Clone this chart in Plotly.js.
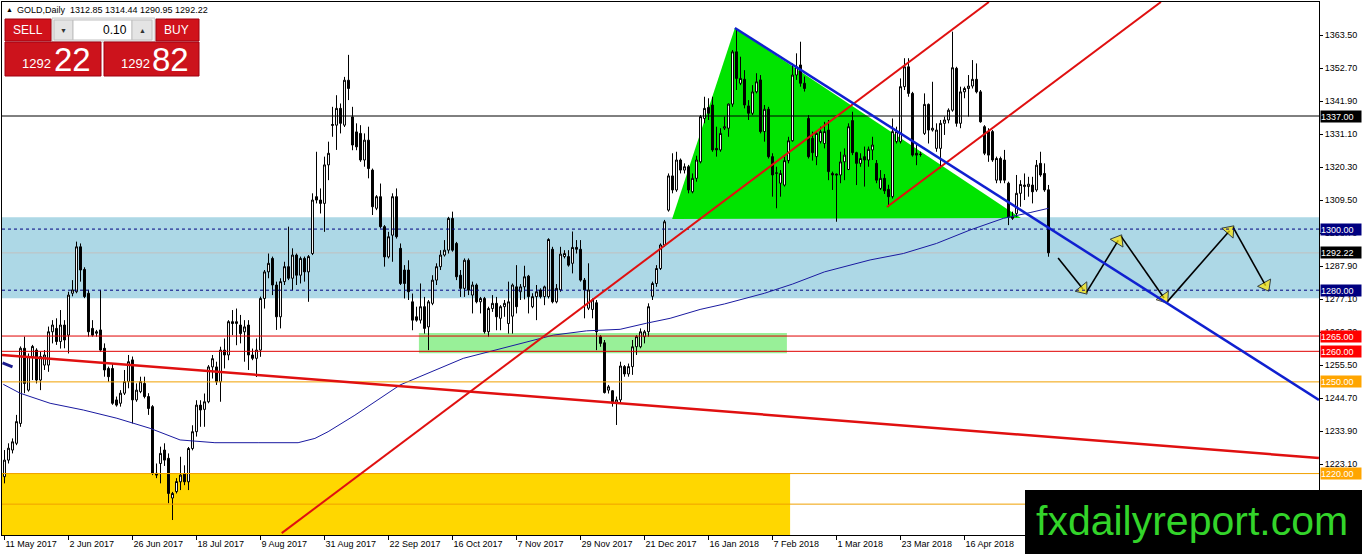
<!DOCTYPE html>
<html>
<head>
<meta charset="utf-8">
<script src="https://cdn.plot.ly/plotly-3.0.1.min.js"></script>
<style>
  html, body { margin: 0; padding: 0; background: #fff; }
  #grafico { width: 1362px; height: 554px; }
</style>
</head>
<body>
<div id="grafico"></div>
<script>
// GOLD daily chart, MT4 style, drawn with plotly
// Referencia: https://plotly.com/javascript/candlestick-charts/

// Etiquetas del eje de tiempo (una cada 16 velas)
let tick_bars   = [0, 16, 32, 48, 64, 80, 96, 112, 128, 144, 160, 176, 192, 208, 224, 240];
let tick_labels = ['11 May 2017', '2 Jun 2017', '26 Jun 2017', '18 Jul 2017', '9 Aug 2017',
                   '31 Aug 2017', '22 Sep 2017', '16 Oct 2017', '7 Nov 2017', '29 Nov 2017',
                   '21 Dec 2017', '16 Jan 2018', '7 Feb 2018', '1 Mar 2018', '23 Mar 2018', '16 Apr 2018'];

// Eje de precios
let y_ticks = [1212.3, 1223.1, 1233.9, 1244.7, 1255.5, 1266.3, 1277.1, 1287.9,
               1298.7, 1309.5, 1320.3, 1331.1, 1341.9, 1352.7, 1363.5];

// Velas diarias (OHLC), 11 May 2017 .. 15 May 2018
let open_prices = [
  1219.0,1224.4,1227.7,1229.9,1236.4,1261.0,1247.3,1258.3,1260.4,1250.6,
  1255.5,1255.5,1266.4,1267.5,1263.2,1268.6,1265.3,1279.0,1279.5,1294.2,
  1286.8,1279.0,1267.5,1265.9,1267.0,1261.0,1254.4,1254.4,1244.1,1243.0,
  1246.3,1250.1,1257.2,1244.1,1246.8,1249.5,1245.2,1241.9,1220.1,1223.3,
  1227.7,1225.0,1212.0,1214.1,1217.3,1220.0,1217.3,1228.2,1233.7,1242.4,
  1241.0,1243.5,1254.9,1254.9,1250.0,1260.4,1258.8,1269.7,1269.1,1268.6,
  1266.4,1268.6,1258.8,1257.7,1260.4,1277.3,1286.0,1290.4,1281.7,1271.3,
  1282.8,1287.7,1283.9,1291.5,1284.9,1290.4,1286.0,1292.0,1310.6,1309.5,
  1308.4,1321.0,1333.9,1334.0,1339.5,1334.0,1348.7,1336.7,1331.8,1331.3,
  1322.6,1329.1,1319.3,1306.8,1310.6,1300.8,1290.9,1298.0,1310.6,1293.7,
  1286.6,1286.6,1276.2,1271.3,1270.2,1274.6,1268.0,1275.7,1283.3,1287.7,
  1291.5,1293.1,1303.5,1295.3,1284.9,1280.6,1289.8,1278.4,1281.7,1276.2,
  1277.3,1266.4,1274.0,1275.7,1270.8,1274.6,1269.1,1271.5,1281.1,1279.5,
  1281.1,1284.6,1274.6,1277.9,1280.1,1277.9,1277.9,1293.4,1276.2,1280.1,
  1291.0,1291.0,1288.8,1294.0,1293.4,1283.3,1274.1,1273.7,1275.9,1264.8,
  1262.8,1247.3,1247.1,1243.0,1244.1,1255.0,1252.6,1255.0,1261.5,1261.5,
  1264.8,1266.4,1278.0,1282.2,1287.1,1294.8,1306.2,1317.4,1312.8,1322.6,
  1319.3,1320.4,1312.2,1316.6,1322.0,1336.2,1339.8,1340.6,1326.4,1325.9,
  1333.0,1333.0,1340.9,1358.0,1347.7,1349.0,1340.3,1337.9,1344.9,1348.8,
  1331.9,1339.2,1323.7,1318.2,1315.0,1314.4,1322.4,1328.9,1350.4,1353.7,
  1347.7,1336.2,1329.7,1323.7,1328.6,1328.0,1332.4,1318.2,1318.0,1317.7,
  1322.0,1319.5,1335.5,1325.0,1321.5,1323.7,1322.6,1325.9,1321.5,1313.3,
  1316.6,1313.0,1310.6,1328.6,1328.6,1346.6,1353.1,1344.4,1324.8,1324.5,
  1331.3,1340.8,1332.4,1326.4,1326.4,1334.6,1335.7,1338.9,1352.6,1334.6,
  1344.9,1346.0,1346.8,1349.0,1344.9,1333.5,1331.9,1331.9,1316.0,1323.1,
  1322.6,1315.0,1303.5,1305.1,1311.7,1313.9,1313.9,1314.4,1312.8,1321.5,
  1318.2,1312.85
];
let high_prices = [
  1227.7,1229.9,1231.5,1239.2,1261.6,1264.8,1259.3,1262.1,1261.0,1259.9,
  1260.4,1268.1,1270.2,1270.8,1273.5,1270.2,1279.5,1283.3,1295.9,1295.3,
  1287.5,1280.1,1270.2,1267.0,1280.1,1262.6,1255.0,1256.1,1245.2,1247.3,
  1253.9,1258.8,1258.3,1249.5,1251.7,1251.7,1246.3,1242.4,1223.3,1228.8,
  1229.9,1226.6,1214.0,1218.5,1225.5,1222.7,1228.7,1235.8,1244.0,1244.0,
  1246.2,1255.5,1258.8,1256.6,1261.5,1264.2,1270.2,1273.5,1274.0,1271.9,
  1270.2,1270.2,1260.9,1264.2,1277.9,1286.6,1292.0,1291.0,1282.8,1283.9,
  1289.3,1300.8,1293.7,1292.0,1291.0,1291.0,1291.5,1311.7,1325.3,1313.3,
  1323.7,1328.6,1340.0,1343.8,1341.1,1349.8,1357.0,1340.0,1334.6,1334.0,
  1331.3,1333.5,1319.8,1311.1,1314.9,1301.3,1299.1,1311.7,1313.3,1295.3,
  1288.2,1289.8,1278.9,1274.6,1282.2,1277.8,1276.8,1284.9,1288.8,1293.1,
  1296.4,1304.0,1305.7,1295.8,1286.6,1290.4,1290.4,1282.8,1282.2,1277.8,
  1277.8,1274.6,1278.4,1277.8,1275.1,1276.8,1282.8,1282.2,1288.2,1282.0,
  1288.0,1285.0,1279.0,1281.7,1280.6,1281.5,1297.0,1294.2,1282.0,1294.2,
  1293.1,1293.1,1299.2,1296.4,1296.4,1284.0,1288.8,1277.3,1276.8,1265.3,
  1263.7,1249.0,1247.3,1245.2,1256.6,1255.5,1256.0,1263.7,1265.3,1267.5,
  1267.0,1275.7,1282.8,1288.2,1295.3,1303.0,1318.2,1324.8,1325.3,1323.1,
  1321.5,1321.0,1318.2,1324.0,1337.3,1343.3,1342.8,1343.3,1333.5,1333.0,
  1336.8,1341.1,1358.6,1365.7,1356.4,1352.0,1342.2,1347.1,1351.0,1350.4,
  1340.6,1340.0,1324.8,1320.4,1319.3,1323.7,1330.2,1354.2,1357.5,1361.3,
  1349.9,1337.3,1331.9,1331.9,1333.5,1335.1,1335.7,1318.8,1318.2,1325.3,
  1326.4,1334.6,1338.4,1325.3,1324.8,1327.0,1327.0,1330.2,1322.6,1319.3,
  1318.0,1314.5,1336.2,1333.5,1349.3,1355.9,1355.9,1344.9,1327.5,1325.3,
  1344.4,1341.1,1348.2,1334.6,1335.7,1336.8,1339.5,1364.6,1353.1,1346.6,
  1346.6,1350.4,1355.3,1354.2,1345.5,1334.0,1333.0,1332.4,1323.7,1323.7,
  1325.9,1315.5,1305.7,1317.7,1316.0,1318.2,1317.1,1317.1,1322.6,1325.3,
  1321.5,1314.44
];
let low_prices = [
  1216.8,1223.3,1226.6,1229.3,1235.3,1246.3,1246.8,1250.6,1249.5,1247.3,
  1253.9,1253.3,1262.6,1262.1,1260.9,1261.0,1259.3,1278.0,1279.0,1282.8,
  1277.4,1264.8,1264.8,1264.8,1259.9,1251.7,1250.0,1242.5,1241.9,1241.9,
  1245.7,1247.9,1236.4,1243.5,1246.3,1244.6,1239.2,1219.5,1218.5,1216.8,
  1222.5,1210.3,1204.8,1213.5,1214.6,1216.2,1214.6,1227.6,1232.1,1235.3,
  1235.3,1243.0,1251.1,1249.0,1243.5,1254.4,1257.1,1265.3,1262.0,1262.6,
  1256.6,1253.9,1257.1,1251.6,1258.2,1274.0,1283.9,1278.4,1267.0,1267.5,
  1281.7,1283.3,1280.0,1281.7,1282.2,1282.8,1276.2,1291.5,1308.4,1305.1,
  1299.1,1316.0,1330.2,1325.9,1331.3,1333.4,1342.2,1325.8,1325.8,1322.0,
  1320.4,1316.6,1304.6,1306.2,1300.2,1287.7,1290.4,1289.3,1296.9,1281.7,
  1277.3,1276.8,1266.9,1269.7,1269.1,1265.8,1260.4,1275.1,1281.7,1286.6,
  1291.0,1292.0,1292.6,1283.3,1277.8,1277.8,1278.4,1272.4,1275.7,1272.4,
  1265.8,1264.8,1272.9,1266.9,1266.9,1271.3,1265.8,1265.8,1272.4,1276.8,
  1277.0,1272.4,1274.1,1270.2,1277.3,1275.1,1277.3,1275.7,1275.7,1279.5,
  1290.4,1287.7,1285.5,1292.0,1282.8,1270.8,1273.5,1270.8,1260.4,1261.5,
  1246.2,1246.2,1241.9,1235.9,1243.0,1251.7,1251.7,1252.3,1258.8,1261.0,
  1262.6,1264.8,1276.8,1281.1,1286.6,1294.2,1305.7,1311.7,1312.2,1318.2,
  1318.2,1311.7,1311.7,1315.5,1321.5,1334.6,1335.7,1325.3,1323.7,1325.3,
  1332.4,1330.2,1340.0,1345.5,1347.1,1339.5,1335.7,1337.3,1344.4,1331.3,
  1328.6,1323.1,1310.6,1306.8,1310.6,1313.9,1321.5,1328.6,1348.8,1346.6,
  1345.0,1323.1,1322.4,1320.9,1328.0,1326.4,1316.0,1312.8,1302.4,1315.0,
  1316.0,1319.3,1324.2,1314.4,1320.4,1313.9,1320.4,1322.6,1315.0,1312.8,
  1311.5,1307.2,1310.0,1328.0,1328.0,1345.5,1343.3,1323.7,1320.9,1323.7,
  1330.8,1328.0,1331.9,1325.3,1319.9,1330.8,1334.6,1338.4,1333.5,1333.0,
  1342.8,1336.8,1346.0,1344.4,1334.8,1324.2,1322.0,1322.0,1315.0,1315.0,
  1315.0,1301.3,1303.0,1304.0,1307.3,1309.5,1310.6,1308.4,1312.2,1317.1,
  1312.2,1290.95
];
let close_prices = [
  1224.4,1228.3,1230.4,1237.0,1261.0,1249.5,1258.3,1261.6,1250.6,1258.3,
  1258.8,1266.4,1268.6,1263.2,1268.6,1263.7,1278.4,1280.1,1294.2,1286.6,
  1277.9,1266.4,1265.3,1266.4,1260.4,1253.9,1251.7,1243.0,1242.4,1246.3,
  1250.1,1256.6,1244.1,1247.3,1250.1,1245.2,1241.3,1220.1,1219.5,1226.6,
  1224.4,1213.5,1213.5,1217.4,1219.5,1217.3,1228.2,1233.7,1242.4,1240.8,
  1243.5,1254.9,1257.6,1250.0,1260.4,1258.8,1269.7,1269.1,1269.7,1265.8,
  1268.0,1258.8,1257.7,1260.4,1277.3,1286.0,1288.8,1281.7,1271.3,1282.8,
  1287.7,1283.9,1291.5,1284.9,1290.4,1286.0,1291.0,1309.5,1309.5,1308.4,
  1321.0,1324.8,1334.2,1339.5,1334.6,1348.7,1346.0,1327.5,1326.9,1322.6,
  1329.1,1319.8,1307.3,1310.6,1300.8,1290.9,1297.5,1310.6,1297.5,1282.2,
  1282.2,1279.5,1270.2,1270.2,1274.6,1267.5,1276.2,1283.3,1287.7,1291.5,
  1293.1,1303.5,1293.1,1284.4,1280.6,1289.8,1280.0,1281.7,1276.2,1277.3,
  1266.4,1274.0,1275.7,1271.3,1274.6,1275.7,1276.2,1281.7,1274.6,1281.1,
  1284.4,1277.9,1277.9,1279.5,1277.9,1281.1,1296.6,1276.2,1280.6,1291.8,
  1292.0,1288.2,1294.0,1293.4,1283.3,1280.1,1280.1,1276.8,1266.4,1262.6,
  1246.5,1248.4,1243.0,1244.1,1255.2,1252.6,1255.0,1261.5,1264.8,1266.4,
  1266.4,1274.6,1282.2,1287.1,1294.8,1302.4,1317.4,1312.8,1322.6,1319.3,
  1320.4,1312.8,1316.6,1322.6,1336.8,1339.5,1337.9,1325.9,1325.9,1331.3,
  1333.5,1340.9,1358.0,1349.3,1349.3,1340.6,1337.9,1344.9,1348.2,1331.9,
  1339.2,1323.7,1317.7,1318.4,1318.2,1322.4,1328.9,1350.4,1353.1,1347.7,
  1346.0,1323.7,1325.0,1331.3,1331.9,1331.9,1318.8,1317.7,1317.7,1322.0,
  1324.2,1333.5,1325.0,1321.5,1323.1,1322.6,1326.1,1327.5,1316.0,1316.6,
  1312.5,1310.6,1331.9,1331.9,1346.6,1353.1,1344.4,1324.2,1324.2,1324.4,
  1340.8,1332.4,1333.0,1332.4,1334.6,1335.7,1338.9,1352.8,1334.6,1344.9,
  1346.0,1346.8,1349.0,1344.9,1335.1,1324.8,1324.2,1322.6,1323.1,1316.0,
  1316.0,1304.0,1304.0,1311.7,1314.6,1314.4,1314.7,1312.2,1320.9,1317.7,
  1312.8,1292.22
];

// Media movil (vela, precio)
let ma_bars   = [-0.3, 3.9, 11.4, 19.7, 28.1, 36.4, 43.9, 52.6, 63.4, 73.4, 77.6, 80.9, 87.6, 98.9,
                 114.7, 128.9, 137.2, 145.5, 153.9, 160.5, 166.4, 173.9, 180, 190, 197, 205,
                 216.4, 224.7, 233, 241.4, 249.7, 256.4, 261];
let ma_values = [1249.2, 1246.3, 1243.0, 1240.8, 1238.1, 1234.8, 1231.0, 1230.1, 1230.1, 1230.1, 1231.5, 1233.7, 1239.1, 1249.0,
                 1257.7, 1262.6, 1265.3, 1266.7, 1267.2, 1269.2, 1270.8, 1273.7, 1275.5, 1279.0, 1282.0, 1286.0,
                 1289.9, 1292.0, 1295.3, 1299.7, 1303.5, 1305.4, 1306.8];
let ma2_bars   = [-0.5, 2];
let ma2_values = [1256.2, 1254.9];

// Niveles horizontales y etiquetas de precio
let h_levels     = [1337, 1300, 1292.22, 1280, 1265, 1260, 1250, 1220, 1210];
let price_labels = [1337, 1300, 1292.22, 1280, 1265, 1260, 1250, 1220];

// Zonas
let blue_zone   = [1277.4, 1303.9];
let green_bars  = [103.6, 195.6];
let green_zone  = [1259.4, 1266.0];
let yellow_bars = [-2, 196.4];
let yellow_zone = [1190, 1220.2];
let tri_bars    = [166.9, 182.6, 254.1];
let tri_prices  = [1303.3, 1365.8, 1303.6];

// Lineas de tendencia
let red_down_bars  = [-0.6, 328.6],  red_down_prices = [1258.8, 1225.1];
let red_up1_bars   = [69.3, 246.1],  red_up1_prices  = [1200.5, 1374.3];
let red_up2_bars   = [220.6, 289.1], red_up2_prices  = [1307.2, 1374.3];
let blue_down_bars = [182.6, 328.6], blue_down_prices = [1365.8, 1244.1];

// Flechas de escenario
let arrow_bars   = [263.4, 270.4, 279.1, 290.6, 307.1, 315.9];
let arrow_prices = [1290.5, 1279.1, 1297.7, 1276.1, 1300.7, 1280.1];

// Precios del panel de un clic
let bid_price = 1292.22;
let ask_price = 1292.82;
let lot_size  = '0.10';


// --- dimensiones del area de dibujo (px) ---
let plot_left = 2, plot_top = 2, plot_w = 1317, plot_h = 533;
let px = function (x) { return (x - plot_left) / plot_w; };
let py = function (y) { return 1 - (y - plot_top) / plot_h; };

let fuente = 'Liberation Sans, Arial, sans-serif';

let bar_index = open_prices.map(function (v, i) { return i; });

// Velas
let velas = {
  type: 'candlestick',
  x: bar_index,
  open: open_prices, high: high_prices, low: low_prices, close: close_prices,
  increasing: { line: { color: '#000000', width: 1 }, fillcolor: '#ffffff' },
  decreasing: { line: { color: '#000000', width: 1 }, fillcolor: '#000000' },
  whiskerwidth: 0,
  hoverinfo: 'skip'
};

let media = {
  type: 'scatter', mode: 'lines', x: ma_bars, y: ma_values,
  line: { color: '#1a1aa0', width: 1 }, hoverinfo: 'skip'
};
let media2 = {
  type: 'scatter', mode: 'lines', x: ma2_bars, y: ma2_values,
  line: { color: '#1a1a8c', width: 3 }, hoverinfo: 'skip'
};

let flechas = {
  type: 'scatter', mode: 'lines+markers', x: arrow_bars, y: arrow_prices,
  line: { color: '#000000', width: 1.6 },
  marker: {
    symbol: 'triangle-up', angleref: 'previous', standoff: 5,
    size: arrow_bars.map(function (v, i) { return i === 0 ? 0 : 13; }),
    color: '#ffe600', line: { color: '#000000', width: 1 }
  },
  hoverinfo: 'skip'
};

// estilo de cada nivel horizontal
let estilo_nivel = function (p) {
  if (p === 1337) return { color: '#000000', dash: 'solid', label: '#000000' };
  if (p === 1300 || p === 1280) return { color: '#000080', dash: '3px,3px', label: '#000080' };
  if (p === 1292.22) return { color: '#c0c0c0', dash: 'solid', label: '#000000' };
  if (p === 1265 || p === 1260) return { color: '#e00000', dash: 'solid', label: '#ff0000' };
  return { color: '#f0a000', dash: 'solid', label: '#ffa500' };
};

let shapes = [];

// zonas de fondo
shapes.push({ type: 'rect', xref: 'paper', yref: 'y', x0: 0, x1: 1, y0: blue_zone[0], y1: blue_zone[1],
  fillcolor: '#add8e6', line: { width: 0 }, layer: 'below' });
shapes.push({ type: 'rect', xref: 'x', yref: 'y', x0: yellow_bars[0], x1: yellow_bars[1], y0: yellow_zone[0], y1: yellow_zone[1],
  fillcolor: '#ffd700', line: { width: 0 }, layer: 'below' });
shapes.push({ type: 'rect', xref: 'x', yref: 'y', x0: green_bars[0], x1: green_bars[1], y0: green_zone[0], y1: green_zone[1],
  fillcolor: '#98f098', line: { width: 0 }, layer: 'below' });
shapes.push({ type: 'path', xref: 'x', yref: 'y',
  path: 'M ' + tri_bars[0] + ',' + tri_prices[0] + ' L ' + tri_bars[1] + ',' + tri_prices[1] +
        ' L ' + tri_bars[2] + ',' + tri_prices[2] + ' Z',
  fillcolor: '#00e400', line: { width: 0 }, layer: 'below' });

// niveles
h_levels.forEach(function (p) {
  let e = estilo_nivel(p);
  shapes.push({ type: 'line', xref: 'paper', yref: 'y', x0: 0, x1: 1, y0: p, y1: p,
    line: { color: e.color, width: 1, dash: e.dash }, layer: p === 1292.22 ? 'below' : 'above' });
});

// tendencias
let tendencia = function (xs, ys, color, ancho) {
  return { type: 'line', xref: 'x', yref: 'y', x0: xs[0], x1: xs[1], y0: ys[0], y1: ys[1],
           line: { color: color, width: ancho }, layer: 'above' };
};
shapes.push(tendencia(red_down_bars, red_down_prices, '#e01010', 2.5));
shapes.push(tendencia(red_up1_bars, red_up1_prices, '#e01010', 2));
shapes.push(tendencia(red_up2_bars, red_up2_prices, '#e01010', 2));
shapes.push(tendencia(blue_down_bars, blue_down_prices, '#1020d0', 2.5));

// panel de un clic
let caja = function (x0, y0, x1, y1, fill, borde) {
  return { type: 'rect', xref: 'paper', yref: 'paper', x0: px(x0), x1: px(x1), y0: py(y1), y1: py(y0),
           fillcolor: fill, line: { color: borde, width: 1 }, layer: 'above' };
};
shapes.push(caja(52, 18, 155, 42, '#f0f0f0', '#c8c8c8'));
shapes.push(caja(5, 19, 51, 41, '#d0121b', '#a00010'));
shapes.push(caja(54, 20, 73, 40, '#e4e4e4', '#c0c0c0'));
shapes.push(caja(73, 20, 132, 40, '#ffffff', '#c0c0c0'));
shapes.push(caja(132, 20, 152, 40, '#e4e4e4', '#c0c0c0'));
shapes.push(caja(156, 19, 199, 41, '#d0121b', '#a00010'));
shapes.push(caja(5, 42, 101, 76, '#cc131c', '#a00010'));
shapes.push(caja(104, 42, 199, 76, '#cc131c', '#a00010'));

// marca de agua
shapes.push({ type: 'rect', xref: 'paper', yref: 'paper', x0: px(1025), x1: px(1370), y0: py(560), y1: py(490),
  fillcolor: '#000000', line: { width: 0 }, layer: 'above' });

let annotations = [];

// etiquetas de precio a la derecha
price_labels.forEach(function (p) {
  annotations.push({ xref: 'paper', x: 1, xanchor: 'left', xshift: 1, yref: 'y', y: p, yanchor: 'middle',
    text: p.toFixed(2), showarrow: false, bgcolor: estilo_nivel(p).label, borderpad: 0,
    width: 40, height: 11, align: 'left', font: { family: fuente, size: 9, color: '#ffffff' } });
});

let texto = function (x, y, t, size, color, anchor) {
  return { xref: 'paper', yref: 'paper', x: px(x), y: py(y), text: t, showarrow: false,
           xanchor: anchor || 'left', yanchor: 'middle', font: { family: fuente, size: size, color: color } };
};

// cabecera
let n = close_prices.length - 1;
annotations.push(texto(4, 10, '\u25B2', 7, '#000000'));
annotations.push(texto(15, 10, 'GOLD,Daily&nbsp;&nbsp;' + open_prices[n].toFixed(2) + ' ' + high_prices[n].toFixed(2) + ' ' +
  low_prices[n].toFixed(2) + ' ' + close_prices[n].toFixed(2), 9, '#000000'));

annotations.push(texto(28, 30, 'SELL', 12, '#ffffff', 'center'));
annotations.push(texto(63, 30, '\u25BC', 7, '#333333', 'center'));
annotations.push(texto(129, 30, lot_size, 12, '#000000', 'right'));
annotations.push(texto(142, 30, '\u25B2', 7, '#333333', 'center'));
annotations.push(texto(177, 30, 'BUY', 12, '#ffffff', 'center'));

let bid_txt = bid_price.toFixed(2).split('.');
let ask_txt = ask_price.toFixed(2).split('.');
annotations.push(texto(20, 63, bid_txt[0], 13, '#ffffff'));
annotations.push(texto(52, 59, bid_txt[1], 33, '#ffffff'));
annotations.push(texto(119, 63, ask_txt[0], 13, '#ffffff'));
annotations.push(texto(150, 59, ask_txt[1], 33, '#ffffff'));

annotations.push(texto(1192, 521, 'fxdailyreport.com', 41, '#33d42a', 'center'));

let layout = {
  width: 1362,
  height: 554,
  margin: { l: plot_left, r: 1362 - plot_left - plot_w, t: plot_top, b: 554 - plot_top - plot_h },
  paper_bgcolor: '#ffffff',
  plot_bgcolor: '#ffffff',
  showlegend: false,
  font: { family: fuente, size: 9, color: '#000000' },
  xaxis: {
    range: [-0.625, 328.625],
    tickvals: tick_bars, ticktext: tick_labels,
    ticks: 'outside', ticklen: 4, tickcolor: '#000000',
    ticklabelposition: 'outside right',
    showline: true, mirror: true, linecolor: '#000000', linewidth: 1,
    showgrid: false, zeroline: false,
    rangeslider: { visible: false },
    tickfont: { family: fuente, size: 9, color: '#000000' },
    fixedrange: true
  },
  yaxis: {
    side: 'right',
    range: [1199.9, 1374.3],
    tickvals: y_ticks, ticktext: y_ticks.map(function (v) { return v.toFixed(2); }),
    ticks: 'outside', ticklen: 3, tickcolor: '#000000',
    showline: true, mirror: true, linecolor: '#000000', linewidth: 1,
    showgrid: false, zeroline: false,
    tickfont: { family: fuente, size: 9, color: '#000000' },
    fixedrange: true
  },
  shapes: shapes,
  annotations: annotations
};

let config = { staticPlot: true, displayModeBar: false, responsive: false };

Plotly.newPlot('grafico', [media, media2, velas, flechas], layout, config);
</script>
</body>
</html>
